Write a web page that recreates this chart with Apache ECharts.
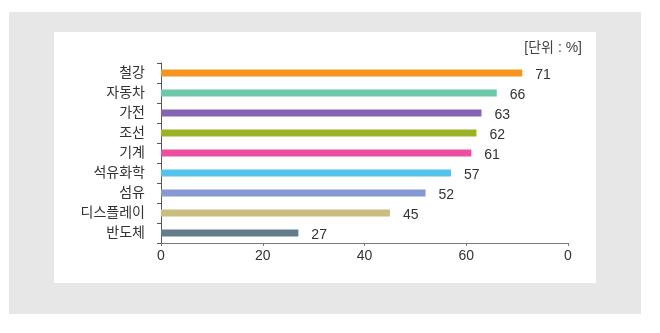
<!DOCTYPE html>
<html>
<head>
<meta charset="utf-8">
<script src="https://cdn.jsdelivr.net/npm/echarts@6/dist/echarts.min.js"></script>
<style>
  html, body { margin: 0; padding: 0; background: #ffffff; }
  #chart { width: 660px; height: 333px; }
</style>
</head>
<body>
<div id="chart"></div>
<script>
// Industries and their share (%)
const categories = ['철강', '자동차', '가전', '조선', '기계', '석유화학', '섬유', '디스플레이', '반도체'];
const values = [71, 66, 63, 62, 61, 57, 52, 45, 27];
const barColors = ['#F5941E', '#6DC8A8', '#8663B3', '#9AB325', '#EC4FA0', '#55C2EA', '#8699D5', '#CBBD7F', '#637D8A'];
const tickLabels = ['0', '20', '40', '60', '0'];
const unitText = '[단위 : %]';

const FONT = '"Liberation Sans", "Noto Sans CJK KR", sans-serif';

const chart = echarts.init(document.getElementById('chart'), null, { renderer: 'canvas' });

chart.setOption({
  animation: false,
  backgroundColor: '#ffffff',
  graphic: [
    { type: 'rect', z: -10, shape: { x: 9, y: 12, width: 632, height: 302 }, style: { fill: '#E7E7E7' } },
    { type: 'rect', z: -9, shape: { x: 54, y: 32, width: 542, height: 251 }, style: { fill: '#ffffff' } },
    {
      type: 'text', right: 660 - 582, top: 41,
      style: { text: unitText, font: '14px ' + FONT, fill: '#444444' }
    }
  ],
  grid: { left: 161, right: 92, top: 63, bottom: 90, containLabel: false },
  xAxis: {
    type: 'value', min: 0, max: 80, interval: 20,
    axisLine: { show: true, lineStyle: { color: '#7a7a7a', width: 1 } },
    axisTick: { show: true, length: 3, lineStyle: { color: '#7a7a7a' } },
    splitLine: { show: false },
    axisLabel: {
      margin: 6, color: '#333333', fontSize: 14, fontFamily: FONT,
      formatter: v => tickLabels[Math.round(v / 20)]
    }
  },
  yAxis: {
    type: 'category', data: categories, inverse: true,
    axisLine: { show: true, lineStyle: { color: '#555555', width: 1 } },
    axisTick: { show: true, length: 4, lineStyle: { color: '#555555' } },
    axisLabel: { margin: 16, color: '#333333', fontSize: 14, fontFamily: FONT }
  },
  series: [{
    type: 'bar',
    data: values.map((v, i) => ({ value: v, itemStyle: { color: barColors[i] } })),
    barWidth: 7,
    label: {
      show: true, position: 'right', distance: 13, offset: [0, 2],
      color: '#333333', fontSize: 14, fontFamily: FONT
    }
  }]
});
</script>
</body>
</html>
